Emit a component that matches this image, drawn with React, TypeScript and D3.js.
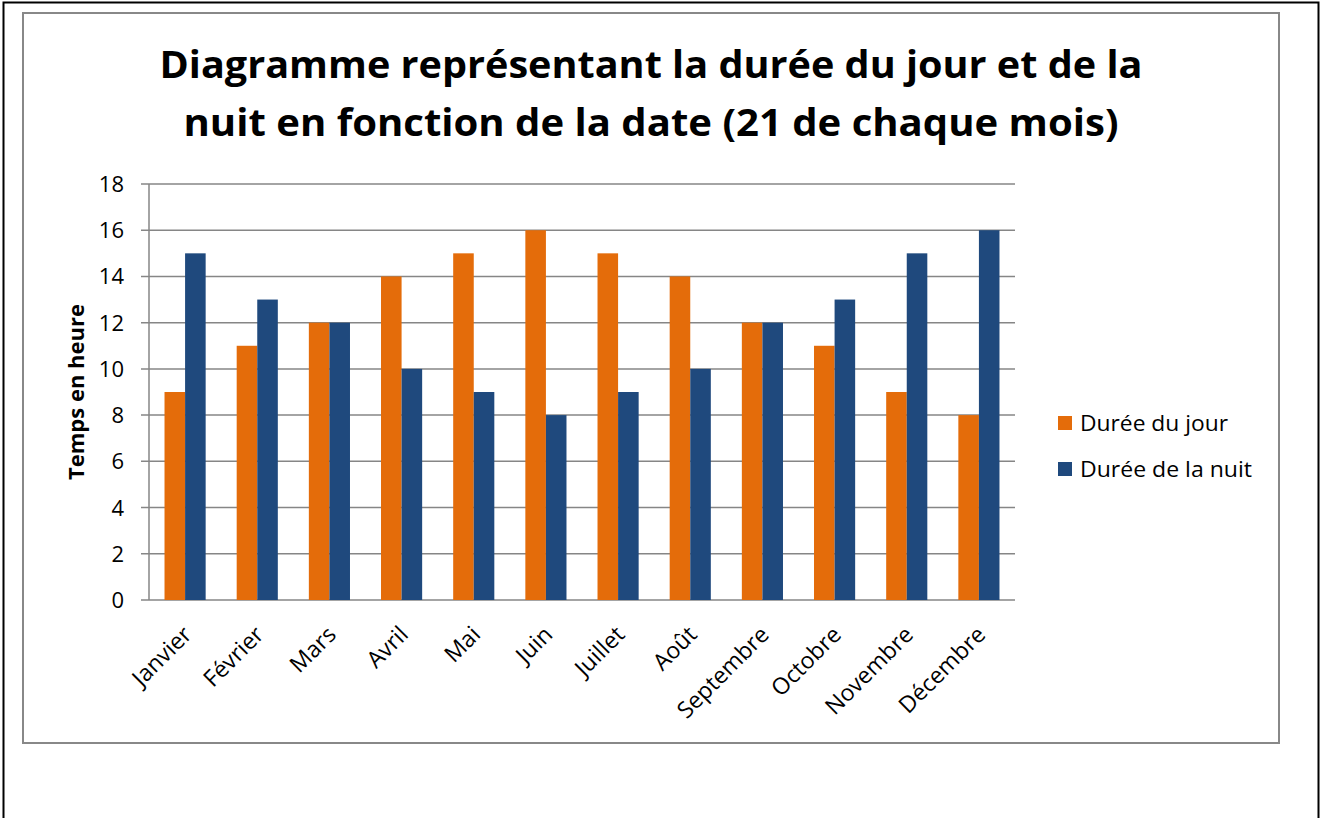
import React from 'react'
import * as d3 from 'd3'

const months = ['Janvier', 'Février', 'Mars', 'Avril', 'Mai', 'Juin', 'Juillet', 'Août', 'Septembre', 'Octobre', 'Novembre', 'Décembre']
const jour = [9, 11, 12, 14, 15, 16, 15, 14, 12, 11, 9, 8]
const nuit = [15, 13, 12, 10, 9, 8, 9, 10, 12, 13, 15, 16]
const seriesNames = ['Durée du jour', 'Durée de la nuit']
const colors = ['#E46C0A', '#1F497D']
const yTicks = [0, 2, 4, 6, 8, 10, 12, 14, 16, 18]

const font = "'Open Sans', 'Noto Sans', sans-serif"

export default function App() {
  const left = 149
  const right = 1015
  const top = 184
  const bottom = 600

  const x = d3.scaleBand<string>().domain(months).range([left, right]).paddingInner(0.43).paddingOuter(0.215)
  const sub = d3.scaleBand<number>().domain([0, 1]).range([0, x.bandwidth()])
  const y = d3.scaleLinear().domain([0, 18]).range([bottom, top])

  const series = [jour, nuit]

  return (
    <svg width={1323} height={818} style={{position: 'absolute', left: 0, top: 0}} fontFamily={font}>
      <rect x={0} y={0} width={1323} height={818} fill="#fff" />
      <path d="M3.5,820 V2.5 H1318.5 V820" fill="none" stroke="#000" strokeWidth={2} />
      <rect x={23} y={13} width={1256} height={730} fill="#fff" stroke="#888" strokeWidth={2} />

      <text x={651} y={78} textAnchor="middle" fontSize={38} fontWeight="bold" fill="#000" textLength={983} lengthAdjust="spacingAndGlyphs">
        Diagramme représentant la durée du jour et de la
      </text>
      <text x={651} y={136} textAnchor="middle" fontSize={38} fontWeight="bold" fill="#000" textLength={935} lengthAdjust="spacingAndGlyphs">
        nuit en fonction de la date (21 de chaque mois)
      </text>

      {yTicks.map(t => (
        <g key={t}>
          <line x1={left - 8} x2={right} y1={y(t)} y2={y(t)} stroke="#868686" strokeWidth={1.5} />
          <text x={124} y={y(t) + 8} textAnchor="end" fontSize={22} fill="#000">{t}</text>
        </g>
      ))}
      <line x1={left} x2={left} y1={top} y2={bottom} stroke="#868686" strokeWidth={1.5} />

      {months.map((m, i) =>
        series.map((s, k) => (
          <rect
            key={m + k}
            x={(x(m) as number) + (sub(k) as number)}
            y={y(s[i])}
            width={sub.bandwidth()}
            height={bottom - y(s[i])}
            fill={colors[k]}
          />
        ))
      )}

      {months.map(m => {
        const cx = (x(m) as number) + x.bandwidth() / 2 + 8
        const cy = 636
        return (
          <text key={m} x={cx} y={cy} textAnchor="end" fontSize={23} fill="#000" transform={`rotate(-45, ${cx}, ${cy})`}>
            {m}
          </text>
        )
      })}

      <text x={0} y={0} transform="translate(84, 392) rotate(-90)" textAnchor="middle" fontSize={22} fontWeight="bold" fill="#000">
        Temps en heure
      </text>

      {seriesNames.map((n, k) => (
        <g key={n} transform={`translate(1058, ${416 + k * 46})`}>
          <rect x={0} y={0} width={14} height={14} fill={colors[k]} />
          <text x={22} y={15} fontSize={22} fill="#000" textLength={k === 0 ? 148 : 172} lengthAdjust="spacingAndGlyphs">{n}</text>
        </g>
      ))}
    </svg>
  )
}
